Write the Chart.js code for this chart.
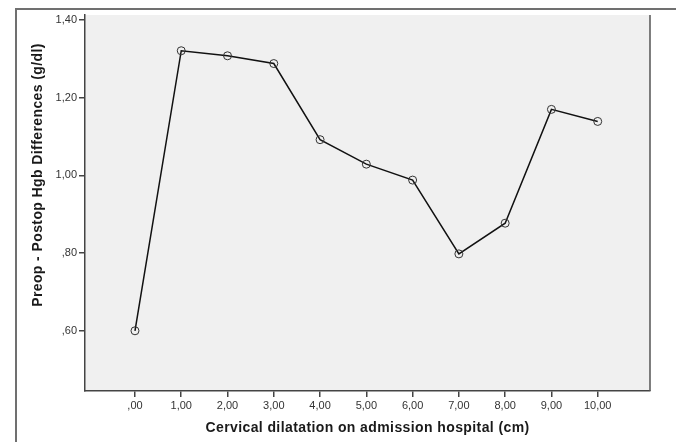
<!DOCTYPE html>
<html>
<head>
<meta charset="utf-8">
<script src="https://cdn.jsdelivr.net/npm/chart.js@4.4.1/dist/chart.umd.min.js"></script>
<style>
  html, body { margin: 0; padding: 0; background: #fff; }
  #wrap { width: 676px; height: 442px; }
</style>
</head>
<body>
<div id="wrap"><canvas id="chart"></canvas></div>
<script>
// cervical dilatation (cm) and mean Hgb drop
var dilatation = [0, 1, 2, 3, 4, 5, 6, 7, 8, 9, 10];
var hgbDiff = [0.60, 1.321, 1.308, 1.288, 1.092, 1.029, 0.988, 0.798, 0.877, 1.170, 1.139];
var xTicks = [0, 1, 2, 3, 4, 5, 6, 7, 8, 9, 10];
var yTicks = [0.6, 0.8, 1.0, 1.2, 1.4];

var xTitle = "Cervical dilatation on admission hospital (cm)";
var yTitle = "Preop - Postop Hgb Differences (g/dl)";

function spssFmt(v) {
    // 0.60 -> ",60", 1.2 -> "1,20"
    return v.toFixed(2).replace('.', ',').replace(/^0,/, ',');
}

var points = dilatation.map(function (d, i) { return { x: d, y: hgbDiff[i] }; });

var framePlugin = {
    id: 'frame',
    beforeDraw: function (chart) {
        var c = chart.ctx, a = chart.chartArea;
        c.save();
        c.fillStyle = '#f0f0f0';
        c.fillRect(a.left, a.top, a.right - a.left, a.bottom - a.top);
        c.strokeStyle = '#707070';
        c.lineWidth = 2;
        c.strokeRect(16, 9, 670, 450);
        c.restore();
    },
    afterDraw: function (chart) {
        var c = chart.ctx, a = chart.chartArea;
        c.save();
        c.strokeStyle = '#555';
        c.lineWidth = 1.5;
        c.beginPath();
        c.moveTo(a.right, a.top);
        c.lineTo(a.right, a.bottom);
        c.stroke();

        c.fillStyle = '#1a1a1a';
        c.font = 'bold 14px "Liberation Sans", Arial, sans-serif';
        c.letterSpacing = '0.4px';
        c.textAlign = 'center';
        c.textBaseline = 'middle';
        c.fillText(xTitle, (a.left + a.right) / 2, 428);

        c.translate(38, 175);
        c.rotate(-Math.PI / 2);
        c.fillText(yTitle, 0, 0);
        c.restore();
    }
};

var ctx = document.getElementById('chart').getContext('2d');
var chart = new Chart(ctx, {
    type: 'scatter',
    data: {
        datasets: [{
            data: points,
            showLine: true,
            borderColor: '#111',
            borderWidth: 1.5,
            pointRadius: 4,
            pointHoverRadius: 4,
            pointBorderColor: '#333',
            pointBorderWidth: 1,
            pointBackgroundColor: 'rgba(0,0,0,0)'
        }]
    },
    options: {
        responsive: true,
        maintainAspectRatio: false,
        animation: false,
        layout: { padding: { top: 15, right: 26, bottom: 0, left: 0 } },
        plugins: { legend: { display: false }, tooltip: { enabled: false } },
        scales: {
            x: {
                type: 'linear',
                min: -1.08,
                max: 11.13,
                afterBuildTicks: function (s) { s.ticks = xTicks.map(function (v) { return { value: v }; }); },
                afterFit: function (s) { s.height = 51; },
                border: { display: true, color: '#444', width: 1.5 },
                grid: { drawOnChartArea: false, drawTicks: true, tickLength: 6, color: '#444', lineWidth: 1.5 },
                ticks: {
                    callback: function (v) { return spssFmt(v); },
                    color: '#333',
                    padding: 2,
                    maxRotation: 0,
                    font: { family: '"Liberation Sans", Arial, sans-serif', size: 11 }
                }
            },
            y: {
                min: 0.445,
                max: 1.413,
                afterBuildTicks: function (s) { s.ticks = yTicks.map(function (v) { return { value: v }; }); },
                afterFit: function (s) { s.width = 85; },
                border: { display: true, color: '#444', width: 1.5 },
                grid: { drawOnChartArea: false, drawTicks: true, tickLength: 6, color: '#444', lineWidth: 1.5 },
                ticks: {
                    callback: function (v) { return spssFmt(v); },
                    color: '#333',
                    padding: 2,
                    font: { family: '"Liberation Sans", Arial, sans-serif', size: 11 }
                }
            }
        }
    },
    plugins: [framePlugin]
});
</script>
</body>
</html>
